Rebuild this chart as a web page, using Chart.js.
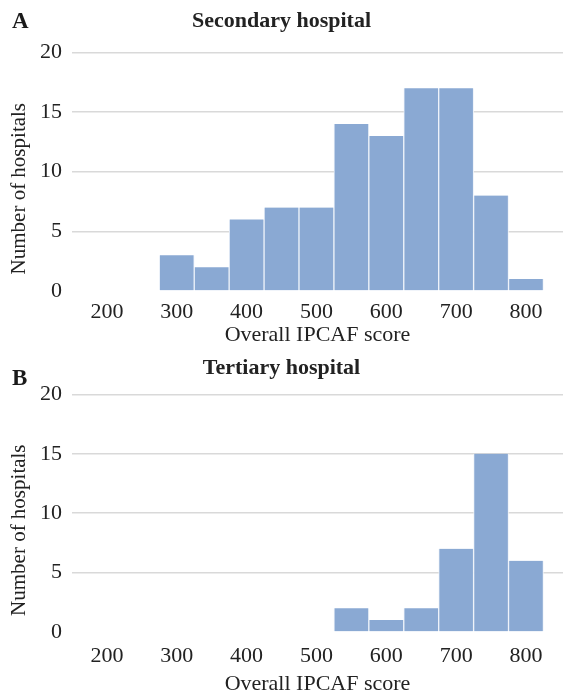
<!DOCTYPE html>
<html>
<head>
<meta charset="utf-8">
<script src="https://cdn.jsdelivr.net/npm/chart.js@4.4.1/dist/chart.umd.min.js"></script>
<style>
    body { margin: 0; background: #ffffff; }
    #wrap { position: relative; width: 566px; height: 698px; }
    .panel { position: absolute; left: 0; width: 566px; }
    .letter { position: absolute; left: 12px; font: bold 23px "Liberation Serif", serif; color: #1a1a1a; }
</style>
</head>
<body>
<div id="wrap">
    <div class="panel" style="top:0; height:352px;"><canvas id="chartA"></canvas></div>
    <div class="panel" style="top:352px; height:346px;"><canvas id="chartB"></canvas></div>
    <div class="letter" style="top:8px;">A</div>
    <div class="letter" style="top:365px;">B</div>
</div>
<script>
// Histogram bins (bin centres, width 50) and counts
const secondaryBins = [300, 350, 400, 450, 500, 550, 600, 650, 700, 750, 800];
const secondaryCounts = [3, 2, 6, 7, 7, 14, 13, 17, 17, 8, 1];

const tertiaryBins = [550, 600, 650, 700, 750, 800];
const tertiaryCounts = [2, 1, 2, 7, 15, 6];

const xTicks = [200, 300, 400, 500, 600, 700, 800];
const yTicks = [0, 5, 10, 15, 20];

const serif = '"Liberation Serif", "Times New Roman", serif';
const textColor = '#222222';

// rotated y axis label, sitting a little below the middle of the plot like the original
const yLabelPlugin = {
    id: 'yLabel',
    afterDraw(chart, args, opts) {
        const { ctx, chartArea } = chart;
        ctx.save();
        ctx.translate(19, (chartArea.top + chartArea.bottom) / 2 + 17);
        ctx.rotate(-Math.PI / 2);
        ctx.font = '21px ' + serif;
        ctx.fillStyle = textColor;
        ctx.textAlign = 'center';
        ctx.textBaseline = 'middle';
        ctx.fillText(opts.text, 0, 0);
        ctx.restore();
    }
};

function makeHistogram(canvasId, title, bins, counts, lay) {
    const ctx = document.getElementById(canvasId).getContext('2d');
    return new Chart(ctx, {
        type: 'bar',
        plugins: [yLabelPlugin],
        data: {
            datasets: [{
                data: bins.map((b, i) => ({ x: b, y: counts[i] })),
                backgroundColor: '#8aa9d3',
                borderColor: '#eef3fa',
                borderWidth: { left: 1, right: 1, top: 0, bottom: 0 },
                borderSkipped: false,
                barPercentage: 1,
                categoryPercentage: 1
            }]
        },
        options: {
            responsive: true,
            maintainAspectRatio: false,
            animation: false,
            layout: { padding: { top: lay.top, right: 3, left: 0, bottom: 0 } },
            plugins: {
                legend: { display: false },
                tooltip: { enabled: false },
                yLabel: { text: 'Number of hospitals' },
                title: {
                    display: true,
                    text: title,
                    color: textColor,
                    font: { family: serif, size: 22, weight: 'bold' },
                    padding: { top: 0, bottom: lay.titleGap }
                }
            },
            scales: {
                x: {
                    type: 'linear',
                    min: 150,
                    max: 853,
                    offset: false,
                    afterBuildTicks: scale => { scale.ticks = xTicks.map(v => ({ value: v })); },
                    afterFit: scale => { scale.height = lay.xHeight; },
                    grid: { display: false },
                    border: { display: false },
                    ticks: {
                        color: textColor,
                        font: { family: serif, size: 22 },
                        maxRotation: 0,
                        padding: lay.tickPad
                    },
                    title: {
                        display: true,
                        text: 'Overall IPCAF score',
                        color: textColor,
                        font: { family: serif, size: 22, lineHeight: 1 },
                        padding: { top: 0, bottom: lay.titlePad }
                    }
                },
                y: {
                    min: 0,
                    max: 20,
                    afterBuildTicks: scale => { scale.ticks = yTicks.map(v => ({ value: v })); },
                    afterFit: scale => { scale.width = 72; },
                    grid: {
                        color: ctx => ctx.tick && ctx.tick.value === 0 ? 'rgba(0,0,0,0)' : '#d9d9d9',
                        lineWidth: 1.5,
                        drawTicks: false
                    },
                    border: { display: false },
                    ticks: {
                        color: textColor,
                        font: { family: serif, size: 22 },
                        padding: 10
                    }
                }
            }
        }
    });
}

makeHistogram('chartA', 'Secondary hospital', secondaryBins, secondaryCounts,
    { top: 8, titleGap: 18, xHeight: 61, tickPad: 0, titlePad: 6 });
makeHistogram('chartB', 'Tertiary hospital', tertiaryBins, tertiaryCounts,
    { top: 3, titleGap: 13, xHeight: 66, tickPad: 3, titlePad: 3 });
</script>
</body>
</html>
